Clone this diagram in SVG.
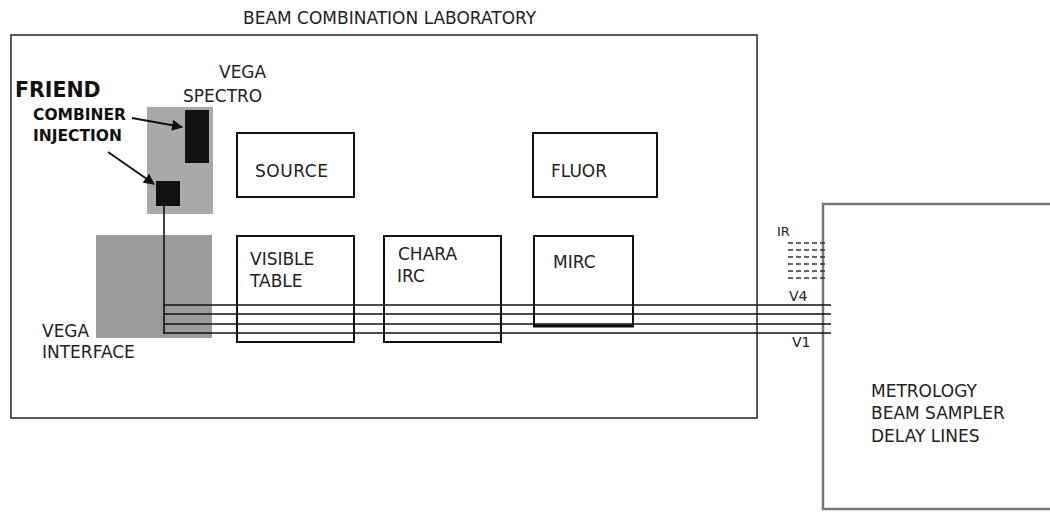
<svg xmlns="http://www.w3.org/2000/svg" width="1050" height="512" viewBox="0 0 1050 512">
<style>
text{font-family:"DejaVu Sans","Liberation Sans",sans-serif;font-size:17px;fill:#222}
.b{font-weight:bold;fill:#111}
.box{fill:none;stroke:#111;stroke-width:2}
.ln{stroke:#111;stroke-width:1.6;fill:none}
.dash{stroke:#333;stroke-width:1.5;stroke-dasharray:5 3}
</style>
<defs>
<marker id="ah" viewBox="0 0 10 10" refX="9" refY="5" markerWidth="6.5" markerHeight="5.5" orient="auto" markerUnits="strokeWidth">
<path d="M0,0 L10,5 L0,10 z" fill="#111"/>
</marker>
</defs>
<rect width="1050" height="512" fill="#fff"/>
<g id="lab">
<rect x="11" y="35" width="746" height="383" fill="none" stroke="#333" stroke-width="1.6"/>
<text x="243" y="24">BEAM COMBINATION LABORATORY</text>
</g>
<g id="metrology">
<rect x="823" y="204" width="240" height="305" fill="none" stroke="#777" stroke-width="2.5"/>
<text x="871" y="397">METROLOGY</text>
<text x="871" y="419">BEAM SAMPLER</text>
<text x="871" y="442">DELAY LINES</text>
</g>
<g id="friend">
<rect x="147" y="107" width="66" height="107" fill="#a9a9a9"/>
<text class="b" x="15" y="97" style="font-size:20.5px">FRIEND</text>
<text class="b" x="33" y="120" style="font-size:15.5px">COMBINER</text>
<text class="b" x="33" y="141" style="font-size:15.5px">INJECTION</text>
</g>
<g id="vega-interface">
<rect x="96" y="235" width="116" height="103" fill="#9b9b9b"/>
<text x="42" y="337">VEGA</text>
<text x="42" y="358">INTERFACE</text>
</g>
<g id="vega-spectro">
<rect x="185" y="110" width="24" height="53" fill="#111"/>
<text x="219" y="78">VEGA</text>
<text x="183" y="102">SPECTRO</text>
</g>
<g id="injection">
<rect x="156" y="181" width="24" height="25" fill="#111"/>
</g>
<g id="source">
<rect class="box" x="237" y="133" width="117" height="64"/>
<text x="255" y="177" textLength="73">SOURCE</text>
</g>
<g id="fluor">
<rect class="box" x="533" y="133" width="124" height="64"/>
<text x="551" y="177">FLUOR</text>
</g>
<g id="visible-table">
<rect class="box" x="237" y="236" width="117" height="106"/>
<text x="250" y="265">VISIBLE</text>
<text x="250" y="287">TABLE</text>
</g>
<g id="chara-irc">
<rect class="box" x="384" y="236" width="117" height="106"/>
<text x="398" y="260">CHARA</text>
<text x="397" y="282">IRC</text>
</g>
<g id="mirc">
<rect class="box" x="534" y="236" width="99" height="90"/>
<line x1="533" y1="326" x2="634" y2="326" stroke="#111" stroke-width="3"/>
<text x="553" y="268">MIRC</text>
</g>
<g id="ir">
<text x="777" y="236" style="font-size:13px">IR</text>
<line class="dash" x1="788" y1="243" x2="828" y2="243"/>
<line class="dash" x1="788" y1="250" x2="828" y2="250"/>
<line class="dash" x1="788" y1="257" x2="828" y2="257"/>
<line class="dash" x1="788" y1="264" x2="828" y2="264"/>
<line class="dash" x1="788" y1="271" x2="828" y2="271"/>
<line class="dash" x1="788" y1="278" x2="828" y2="278"/>
<text x="789" y="301" style="font-size:14px">V4</text>
<text x="792" y="347" style="font-size:14px">V1</text>
</g>
<g id="connectors">
<line class="ln" x1="164" y1="206" x2="164" y2="334"/>
<line class="ln" x1="164" y1="305" x2="831" y2="305"/>
<line class="ln" x1="164" y1="314" x2="831" y2="314"/>
<line class="ln" x1="164" y1="324" x2="831" y2="324"/>
<line class="ln" x1="164" y1="333" x2="831" y2="333"/>
<line x1="132" y1="118" x2="182" y2="127" stroke="#111" stroke-width="2" marker-end="url(#ah)"/>
<line x1="108" y1="152" x2="154" y2="184" stroke="#111" stroke-width="2" marker-end="url(#ah)"/>
</g>
</svg>
